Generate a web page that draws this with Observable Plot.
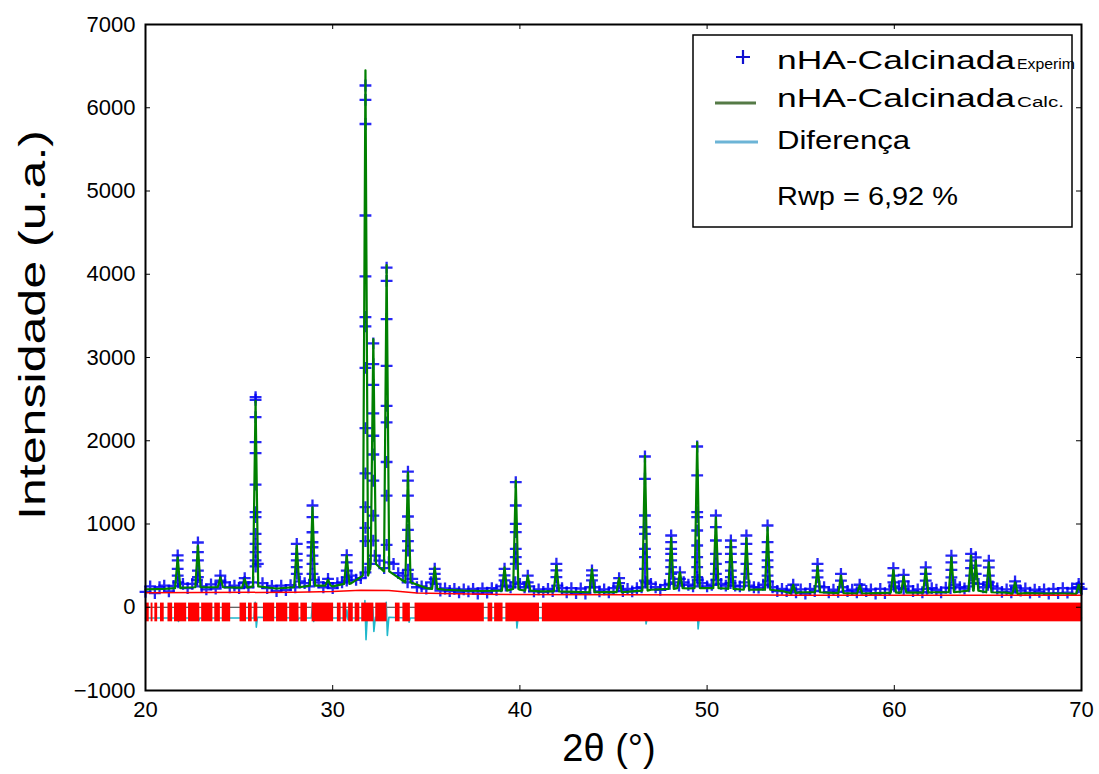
<!DOCTYPE html>
<html><head><meta charset="utf-8">
<script src="https://cdn.jsdelivr.net/npm/d3@7"></script>
<script src="https://cdn.jsdelivr.net/npm/@observablehq/plot@0.6"></script>
<style>body{margin:0;background:#fff;} #chart{width:1099px;height:774px;}</style>
</head><body><div id="chart"></div>
<script>
// ---- axis ticks ----
const xTicks = [20, 30, 40, 50, 60, 70];
const yTicks = [-1000, 0, 1000, 2000, 3000, 4000, 5000, 6000, 7000];

// ---- Bragg peaks: 2θ, calculated top, foot level ----
const peakPos  = [21.72, 22.80, 24.0, 25.3, 25.88, 28.08, 28.92, 29.75, 30.75, 31.75, 32.17, 32.88, 34.02, 35.45, 39.18, 39.78, 40.42, 41.95, 43.85, 45.3, 46.68, 48.08, 48.55, 49.47, 50.47, 51.27, 52.1, 53.23, 54.6, 55.9, 57.15, 58.15, 59.95, 60.5, 61.68, 63.05, 64.1, 64.35, 65.05, 66.45, 69.85];
const peakTop  = [600, 740, 360, 340, 2480, 740, 1200, 330, 620, 6450, 3220, 4110, 1620, 480, 480, 1520, 380, 500, 460, 350, 1820, 830, 420, 1980, 1080, 800, 830, 960, 270, 490, 380, 260, 450, 370, 460, 600, 620, 560, 540, 300, 270];
const peakFoot = [230, 240, 240, 235, 250, 240, 260, 260, 280, 380, 520, 430, 300, 220, 200, 220, 200, 190, 180, 180, 200, 220, 230, 230, 230, 220, 210, 210, 170, 180, 170, 165, 175, 175, 175, 180, 200, 200, 180, 160, 160];
// observed (+) points lying on each peak
const peakObs = [
  [622, 562, 462, 381], [778, 662, 562, 441, 361], [380, 320], [350, 300],
  [2523, 2492, 2283, 1983, 1851, 1474, 1142, 1082, 882, 762, 662, 562, 490],
  [762, 642, 562, 481, 402], [1222, 1082, 901, 781, 721, 621, 522, 402], [340, 290],
  [625, 540, 440, 360],
  [6267, 6095, 5805, 4706, 3974, 3486, 3373, 2875, 2152, 1609, 1202, 953, 795],
  [3170, 2920, 2670, 2330, 2060, 1835, 1520, 1100, 800],
  [4080, 3920, 3460, 2900, 2420, 2220, 1745, 1340, 750],
  [1630, 1520, 1340, 1090, 930, 795, 680, 450],
  [462, 402, 342], [462, 382, 322], [1502, 1222, 1002, 902, 702, 601, 522], [380, 300],
  [522, 442, 362], [442, 382, 322], [350, 290],
  [1811, 1543, 1102, 962, 882, 702, 601, 462, 321], [862, 782, 702, 642, 562, 481, 402], [420, 340],
  [1931, 1583, 1142, 1082, 922, 742, 601, 481, 361], [1102, 962, 802, 642, 522, 402],
  [802, 722, 642, 542, 441, 361], [862, 762, 642, 522, 402], [982, 782, 662, 562, 481, 381],
  [270], [520, 440, 360], [400, 320], [270], [470, 380, 300], [390, 310], [480, 400, 320],
  [620, 540, 450, 360], [640, 560, 470, 380], [600, 500, 400], [560, 480, 380, 300], [310, 260], [280, 240]
];

// observed baseline, every 0.25° from 20 to 70
const obsStart = 20, obsStep = 0.25;
const obsBaseY = [
  185, 250, 170, 240, 260, 190, 255, 300, 280, 230,
  280, 330, 250, 215, 275, 225, 300, 300, 240, 260,
  230, 290, 240, 300, 520, 290, 230, 255, 195, 260,
  205, 265, 240, 310, 290, 250, 330, 300, 240, 290,
  230, 290, 300, 320, 380, 330, 350, 420, 520, 620,
  560, 470, 540, 520, 410, 380, 300, 340, 240, 250,
  225, 300, 280, 200, 225, 195, 220, 180, 215, 190,
  220, 165, 225, 175, 230, 210, 250, 260, 240, 300,
  280, 240, 250, 190, 215, 185, 220, 195, 260, 230,
  180, 230, 170, 225, 165, 240, 240, 190, 215, 180,
  230, 250, 195, 220, 190, 230, 240, 300, 280, 240,
  210, 265, 280, 300, 260, 300, 270, 250, 330, 290,
  250, 270, 330, 280, 260, 290, 260, 250, 300, 260,
  240, 235, 270, 310, 240, 195, 220, 195, 210, 180,
  215, 165, 220, 195, 250, 240, 180, 210, 185, 240,
  195, 210, 180, 220, 195, 215, 165, 220, 170, 215,
  250, 230, 220, 250, 195, 215, 180, 220, 230, 210,
  180, 235, 230, 270, 240, 225, 250, 290, 280, 240,
  270, 250, 225, 185, 215, 180, 235, 200, 225, 175,
  210, 185, 215, 165, 220, 170, 230, 175, 225, 230,
  220
];

// calculated baseline, every 1°
const calcBgStart = 20, calcBgStep = 1;
const calcBgY = [215, 220, 235, 240, 250, 235, 240, 225, 235, 250,
  250, 290, 470, 380, 280, 230, 210, 200, 195, 200,
  210, 190, 195, 185, 190, 185, 190, 210, 215, 225,
  230, 225, 220, 215, 195, 180, 185, 180, 170, 170,
  180, 175, 180, 185, 200, 190, 175, 170, 165, 165, 170];

// background (red)
const bgX = [20, 28, 30, 31.5, 33, 34.5, 38, 45, 55, 70];
const bgY = [175, 180, 190, 205, 200, 170, 155, 150, 145, 143];

// difference curve (offset below zero)
const diffX = [20,
  21.64, 21.70, 21.76, 21.82,
  22.72, 22.78, 22.84, 22.90,
  25.80, 25.86, 25.92, 25.98,
  28.02, 28.08, 28.14, 28.20,
  28.86, 28.92, 28.98, 29.04,
  30.70, 30.76, 30.82, 30.88,
  31.66, 31.72, 31.78, 31.86,
  32.10, 32.15, 32.20, 32.28,
  32.80, 32.86, 32.92, 33.00,
  33.96, 34.02, 34.08, 34.14,
  39.72, 39.78, 39.84, 39.90,
  46.62, 46.68, 46.74, 46.80,
  49.40, 49.46, 49.52, 49.58,
  70];
const diffY = [-130,
  -130, -20, -170, -130,
  -130, -30, -160, -130,
  -130, 60, -240, -120,
  -130, -20, -150, -130,
  -130, 50, -170, -130,
  -130, -30, -150, -130,
  -130, 80, -390, -60,
  -130, -20, -290, -120,
  -130, 60, -340, -120,
  -130, 20, -180, -130,
  -130, 20, -250, -130,
  -130, 0, -200, -130,
  -130, 40, -260, -130,
  -130];

// reflection-marker zones (red)
const braggStart = [20.05, 20.3, 20.5, 20.8, 21.2, 21.55, 22.3, 23.0, 23.7, 24.1, 25.05, 25.5, 25.8, 26.3, 27.0, 27.7, 28.3, 28.9, 30.25, 30.55, 30.85, 31.2, 31.55, 32.3, 33.35, 33.75, 34.4, 38.3, 38.65, 39.25, 41.2];
const braggEnd   = [20.2, 20.4, 20.65, 21.0, 21.45, 22.2, 22.9, 23.6, 24.0, 24.55, 25.4, 25.7, 26.0, 26.9, 27.6, 28.2, 28.65, 30.05, 30.45, 30.75, 31.1, 31.45, 32.2, 32.9, 33.6, 34.15, 38.1, 38.55, 39.1, 41.05, 70];
const braggTop = 50, braggBottom = -175;

// ---- build tables ----
const obs = obsBaseY.map((y, i) => ({x: obsStart + i * obsStep, y}));
peakPos.forEach((p, i) => peakObs[i].forEach(y => obs.push({x: p, y})));

const hw = 0.14;
const calc = [];
calcBgY.forEach((y, i) => {
  const x = calcBgStart + i * calcBgStep;
  if (!peakPos.some(p => Math.abs(p - x) <= hw + 0.02)) calc.push({x, y});
});
peakPos.forEach((p, i) => {
  calc.push({x: p - hw, y: peakFoot[i]}, {x: p, y: peakTop[i]}, {x: p + hw, y: peakFoot[i]});
});
calc.sort((a, b) => a.x - b.x);

const bg = bgX.map((x, i) => ({x, y: bgY[i]}));
const diff = diffX.map((x, i) => ({x, y: diffY[i]}));
const bragg = braggStart.map((x1, i) => ({x1, x2: braggEnd[i]}));

const W = 1099, H = 774, mL = 145, mT = 24, mR = 18, mB = 84;
const frameW = W - mL - mR, frameH = H - mT - mB, tickLen = 5;
const fmt = d => (d < 0 ? "\u2212" : "") + Math.abs(d);

const chart = Plot.plot({
  width: W, height: H,
  marginLeft: mL, marginTop: mT, marginRight: mR, marginBottom: mB,
  style: {fontFamily: "'Liberation Sans', Arial, sans-serif", background: "white", color: "black"},
  x: {domain: [20, 70]},
  y: {domain: [-1000, 7000]},
  marks: [
    Plot.dot(obs, {x: "x", y: "y", symbol: "plus", r: 3.9, fill: "none", stroke: "#0000f5", strokeWidth: 2.3, strokeOpacity: 0.85}),
    Plot.line(calc, {x: "x", y: "y", stroke: "#008000", strokeWidth: 2.2}),
    Plot.line(bg, {x: "x", y: "y", stroke: "#ff0000", strokeWidth: 1.5}),
    Plot.ruleY([0], {stroke: "#333", strokeWidth: 1}),
    Plot.line(diff, {x: "x", y: "y", stroke: "#1fb8cc", strokeWidth: 1.6}),
    Plot.rect(bragg, {x1: "x1", x2: "x2", y1: () => braggBottom, y2: () => braggTop, fill: "#ff0000"}),
    Plot.frame({stroke: "black", strokeWidth: 2}),
    Plot.tickX(xTicks, {x: d => d, insetTop: frameH - tickLen, stroke: "black", strokeWidth: 1}),
    Plot.tickX(xTicks, {x: d => d, insetBottom: frameH - tickLen, stroke: "black", strokeWidth: 1}),
    Plot.tickY(yTicks, {y: d => d, insetRight: frameW - tickLen, stroke: "black", strokeWidth: 1}),
    Plot.tickY(yTicks, {y: d => d, insetLeft: frameW - tickLen, stroke: "black", strokeWidth: 1}),
    Plot.axisX({ticks: xTicks, tickSize: 0, tickPadding: 11, fontSize: 22, label: null, tickFormat: fmt}),
    Plot.axisY({ticks: yTicks, tickSize: 0, tickPadding: 10, fontSize: 22, label: null, tickFormat: fmt})
  ]
});
document.getElementById("chart").appendChild(chart);

// ---- axis titles and legend ----
const svg = d3.select(chart);
const ff = "'Liberation Sans', Arial, sans-serif";
svg.append("text").text("Intensidade (u.a.)")
  .attr("transform", "translate(45,325) rotate(-90)")
  .attr("text-anchor", "middle").attr("font-family", ff).attr("font-size", 37)
  .attr("textLength", 390).attr("lengthAdjust", "spacingAndGlyphs").attr("fill", "black");
svg.append("text").text("2θ (°)")
  .attr("x", 609).attr("y", 761)
  .attr("text-anchor", "middle").attr("font-family", ff).attr("font-size", 38).attr("fill", "black");

const lg = svg.append("g").attr("font-family", ff).attr("fill", "black").attr("text-anchor", "start");
lg.append("rect").attr("x", 693).attr("y", 35).attr("width", 379).attr("height", 192)
  .attr("fill", "white").attr("stroke", "black").attr("stroke-width", 1.5);
lg.append("path").attr("d", "M736,57H750M743,50V64").attr("stroke", "#1010d0").attr("stroke-width", 2.2).attr("fill", "none");
lg.append("path").attr("d", "M715,103H756").attr("stroke", "#557a46").attr("stroke-width", 3);
lg.append("path").attr("d", "M715,142H758").attr("stroke", "#6cb4d6").attr("stroke-width", 3);
const lt = (t, x, y, fs, len) => lg.append("text").text(t).attr("x", x).attr("y", y)
  .attr("text-anchor", "start").attr("font-size", fs)
  .attr("textLength", len).attr("lengthAdjust", "spacingAndGlyphs");
lt("nHA-Calcinada", 777, 69, 25.6, 238);
lt("Experim", 1017, 69, 14, 58);
lt("nHA-Calcinada", 777, 107, 25.6, 238);
lt("Calc.", 1017, 107, 14, 47);
lt("Diferença", 777, 149, 25.6, 133);
lt("Rwp = 6,92 %", 777, 205, 25.6, 181);
</script>
</body></html>
